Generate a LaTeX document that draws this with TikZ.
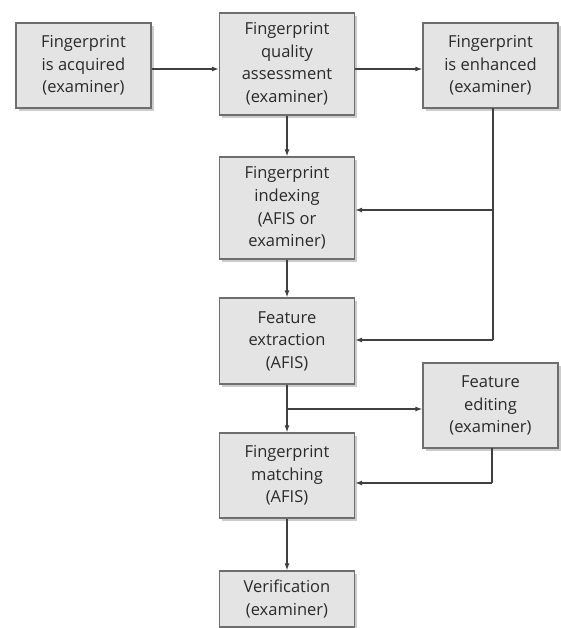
\documentclass[tikz,border=0pt]{standalone}
\usepackage{fontspec}
\setmainfont{Open Sans}
\usetikzlibrary{arrows.meta,shadows,calc}
\definecolor{boxfill}{HTML}{E4E4E4}
\definecolor{boxdraw}{HTML}{6E6E6E}
\definecolor{txt}{HTML}{2A2A2A}
\definecolor{arr}{HTML}{404040}
\begin{document}
\begin{tikzpicture}[x=1pt,y=-1pt,
  box/.style={draw=boxdraw, line width=1.2pt, fill=boxfill, text=txt,
    inner sep=0pt, minimum width=135pt, align=center,
    font=\fontsize{16.5}{22.5}\selectfont,
    drop shadow={shadow xshift=2.5pt, shadow yshift=-3pt, opacity=0.2, fill=black}},
  conn/.style={draw=arr, line width=1.2pt},
  arrow/.style={conn, -{Latex[length=7pt,width=5pt]}}]
\useasboundingbox (0,0) rectangle (560,628);
\node[box, minimum height=85pt]  (b1) at (83.5,65.5) {Fingerprint\\is acquired\\(examiner)};
\node[box, minimum height=102pt] (b2) at (287,64)    {Fingerprint\\quality\\assessment\\(examiner)};
\node[box, minimum height=85pt]  (b3) at (490.5,65.5) {Fingerprint\\is enhanced\\(examiner)};
\node[box, minimum height=102pt] (b4) at (287,208)   {Fingerprint\\indexing\\(AFIS or\\examiner)};
\node[box, minimum height=86pt]  (b5) at (287,341)   {Feature\\extraction\\(AFIS)};
\node[box, minimum height=85pt]  (b6) at (490.5,405.5) {Feature\\editing\\(examiner)};
\node[box, minimum height=85pt]  (b7) at (287,475.5) {Fingerprint\\matching\\(AFIS)};
\node[box, minimum height=56pt]  (b8) at (287,599)   {Verification\\(examiner)};

\coordinate (t3) at (493,108);
\coordinate (j4) at (493,210);
\coordinate (j5) at (493,340);
\coordinate (j56) at (287,409);
\coordinate (t6) at (492,448);
\coordinate (j7) at (492,483);

\draw[arrow] (b1.east |- 0,69) -- (b2.west |- 0,69);
\draw[arrow] (b2.east |- 0,69) -- (b3.west |- 0,69);
\draw[arrow] (b2.south) -- (b4.north);
\draw[conn] (t3) -- (j5);
\draw[arrow] (j4) -- (b4.east |- j4);
\draw[arrow] (j5) -- (b5.east |- j5);
\draw[arrow] (b4.south) -- (b5.north);
\draw[arrow] (b5.south) -- (b7.north);
\draw[arrow] (j56) -- (b6.west |- j56);
\draw[conn] (t6) -- (j7);
\draw[arrow] (j7) -- (b7.east |- j7);
\draw[arrow] (b7.south) -- (b8.north);
\end{tikzpicture}
\end{document}
